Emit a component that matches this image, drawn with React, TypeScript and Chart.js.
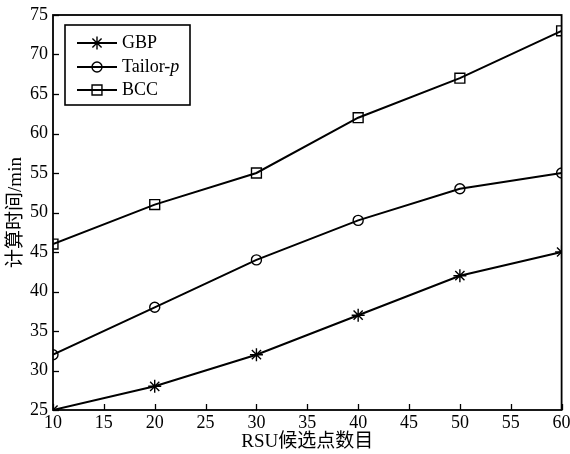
import React, { useEffect, useRef } from "react";
import { Chart, registerables } from "chart.js";

Chart.register(...registerables);

const xValues = [10, 20, 30, 40, 50, 60];
const gbp = [25, 28, 32, 37, 42, 45];
const tailor = [32, 38, 44, 49, 53, 55];
const bcc = [46, 51, 55, 62, 67, 73];
const seriesNames = ["GBP", "Tailor-p", "BCC"];
const xTitle = "RSU候选点数目";
const yTitle = "计算时间/min";

const SERIF = "'Liberation Serif', 'Times New Roman', serif";
const CJK = "'Liberation Serif', 'Noto Sans CJK SC', serif";

function drawMarker(ctx: CanvasRenderingContext2D, style: string, x: number, y: number, r: number) {
  ctx.beginPath();
  if (style === "circle") {
    ctx.arc(x, y, r, 0, Math.PI * 2);
  } else if (style === "rect") {
    const s = r * Math.SQRT1_2 * 2;
    ctx.rect(x - s / 2, y - s / 2, s, s);
  } else if (style === "star") {
    for (let k = 0; k < 4; k++) {
      const ang = (k * Math.PI) / 4;
      ctx.moveTo(x - Math.sin(ang) * r, y - Math.cos(ang) * r);
      ctx.lineTo(x + Math.sin(ang) * r, y + Math.cos(ang) * r);
    }
  }
  ctx.stroke();
}

const framePlugin = {
  id: "frame",
  afterDraw(chart: any) {
    const { ctx, chartArea: a, scales } = chart;
    ctx.save();
    ctx.strokeStyle = "#000";
    ctx.lineWidth = 1.8;
    ctx.strokeRect(a.left, a.top, a.right - a.left, a.bottom - a.top);
    ctx.lineWidth = 1.3;
    const tl = 6;
    scales.x.ticks.forEach((t: any) => {
      const px = Math.round(scales.x.getPixelForValue(t.value)) + 0.5;
      ctx.beginPath();
      ctx.moveTo(px, a.bottom);
      ctx.lineTo(px, a.bottom - tl);
      ctx.stroke();
    });
    scales.y.ticks.forEach((t: any) => {
      const py = Math.round(scales.y.getPixelForValue(t.value)) + 0.5;
      ctx.beginPath();
      ctx.moveTo(a.left, py);
      ctx.lineTo(a.left + tl, py);
      ctx.stroke();
    });
    // legend
    const bx = 65, by = 25, bw = 125, bh = 80;
    ctx.fillStyle = "#fff";
    ctx.fillRect(bx, by, bw, bh);
    ctx.lineWidth = 1.6;
    ctx.strokeRect(bx, by, bw, bh);
    const rows = [43, 67, 90];
    chart.data.datasets.forEach((ds: any, i: number) => {
      const y = rows[i];
      ctx.strokeStyle = "#000";
      ctx.lineWidth = 2;
      ctx.beginPath();
      ctx.moveTo(77, y);
      ctx.lineTo(117, y);
      ctx.stroke();
      ctx.lineWidth = 1.4;
      drawMarker(ctx, ds.pointStyle, 97, y, ds.pointRadius);
      ctx.fillStyle = "#000";
      ctx.textBaseline = "middle";
      ctx.textAlign = "left";
      ctx.font = `18px ${SERIF}`;
      const name = seriesNames[i];
      if (name === "Tailor-p") {
        const base = "Tailor-";
        ctx.fillText(base, 122, y);
        const w = ctx.measureText(base).width;
        ctx.font = `italic 18px ${SERIF}`;
        ctx.fillText("p", 122 + w, y);
      } else {
        ctx.fillText(name, 122, y);
      }
    });
    ctx.restore();
  },
};

export default function App() {
  const ref = useRef<HTMLCanvasElement>(null);
  useEffect(() => {
    document.body.style.margin = "0";
    const mk = (label: string, vals: number[], style: string, r: number) => ({
      label,
      data: xValues.map((x, i) => ({ x, y: vals[i] })),
      borderColor: "#000",
      borderWidth: 2,
      backgroundColor: "rgba(0,0,0,0)",
      pointStyle: style,
      pointRadius: r,
      pointBorderWidth: 1.4,
      pointBorderColor: "#000",
      pointBackgroundColor: "rgba(0,0,0,0)",
      tension: 0,
    });
    const chart = new Chart(ref.current!, {
      type: "line",
      data: {
        datasets: [
          mk(seriesNames[0], gbp, "star", 6.5),
          mk(seriesNames[1], tailor, "circle", 5),
          mk(seriesNames[2], bcc, "rect", 7),
        ],
      },
      options: {
        animation: false,
        responsive: false,
        layout: { padding: { top: 15, right: 8, left: 0, bottom: 0 } },
        plugins: { legend: { display: false }, tooltip: { enabled: false } },
        scales: {
          x: {
            type: "linear",
            min: 10,
            max: 60,
            ticks: {
              stepSize: 5,
              color: "#000",
              padding: 2,
              maxRotation: 0,
              font: { family: SERIF, size: 18 },
            },
            grid: { display: false, drawTicks: false },
            border: { display: false },
            title: {
              display: true,
              text: xTitle,
              color: "#000",
              font: { family: CJK, size: 19 },
              padding: { top: 0, bottom: 1 },
            },
            afterFit(s: any) {
              s.height = 44;
              s.paddingRight = 0;
              s.paddingLeft = 0;
            },
          },
          y: {
            type: "linear",
            min: 25,
            max: 75,
            ticks: {
              stepSize: 5,
              color: "#000",
              padding: 5,
              font: { family: SERIF, size: 18 },
            },
            grid: { display: false, drawTicks: false },
            border: { display: false },
            title: {
              display: true,
              text: yTitle,
              color: "#000",
              font: { family: CJK, size: 19 },
              padding: { top: 5, bottom: 0 },
            },
            afterFit(s: any) {
              s.width = 53;
              s.paddingTop = 0;
              s.paddingBottom = 0;
            },
          },
        },
      },
      plugins: [framePlugin],
    } as any);
    return () => chart.destroy();
  }, []);
  return <canvas ref={ref} width={570} height={454} style={{ display: "block" }} />;
}
